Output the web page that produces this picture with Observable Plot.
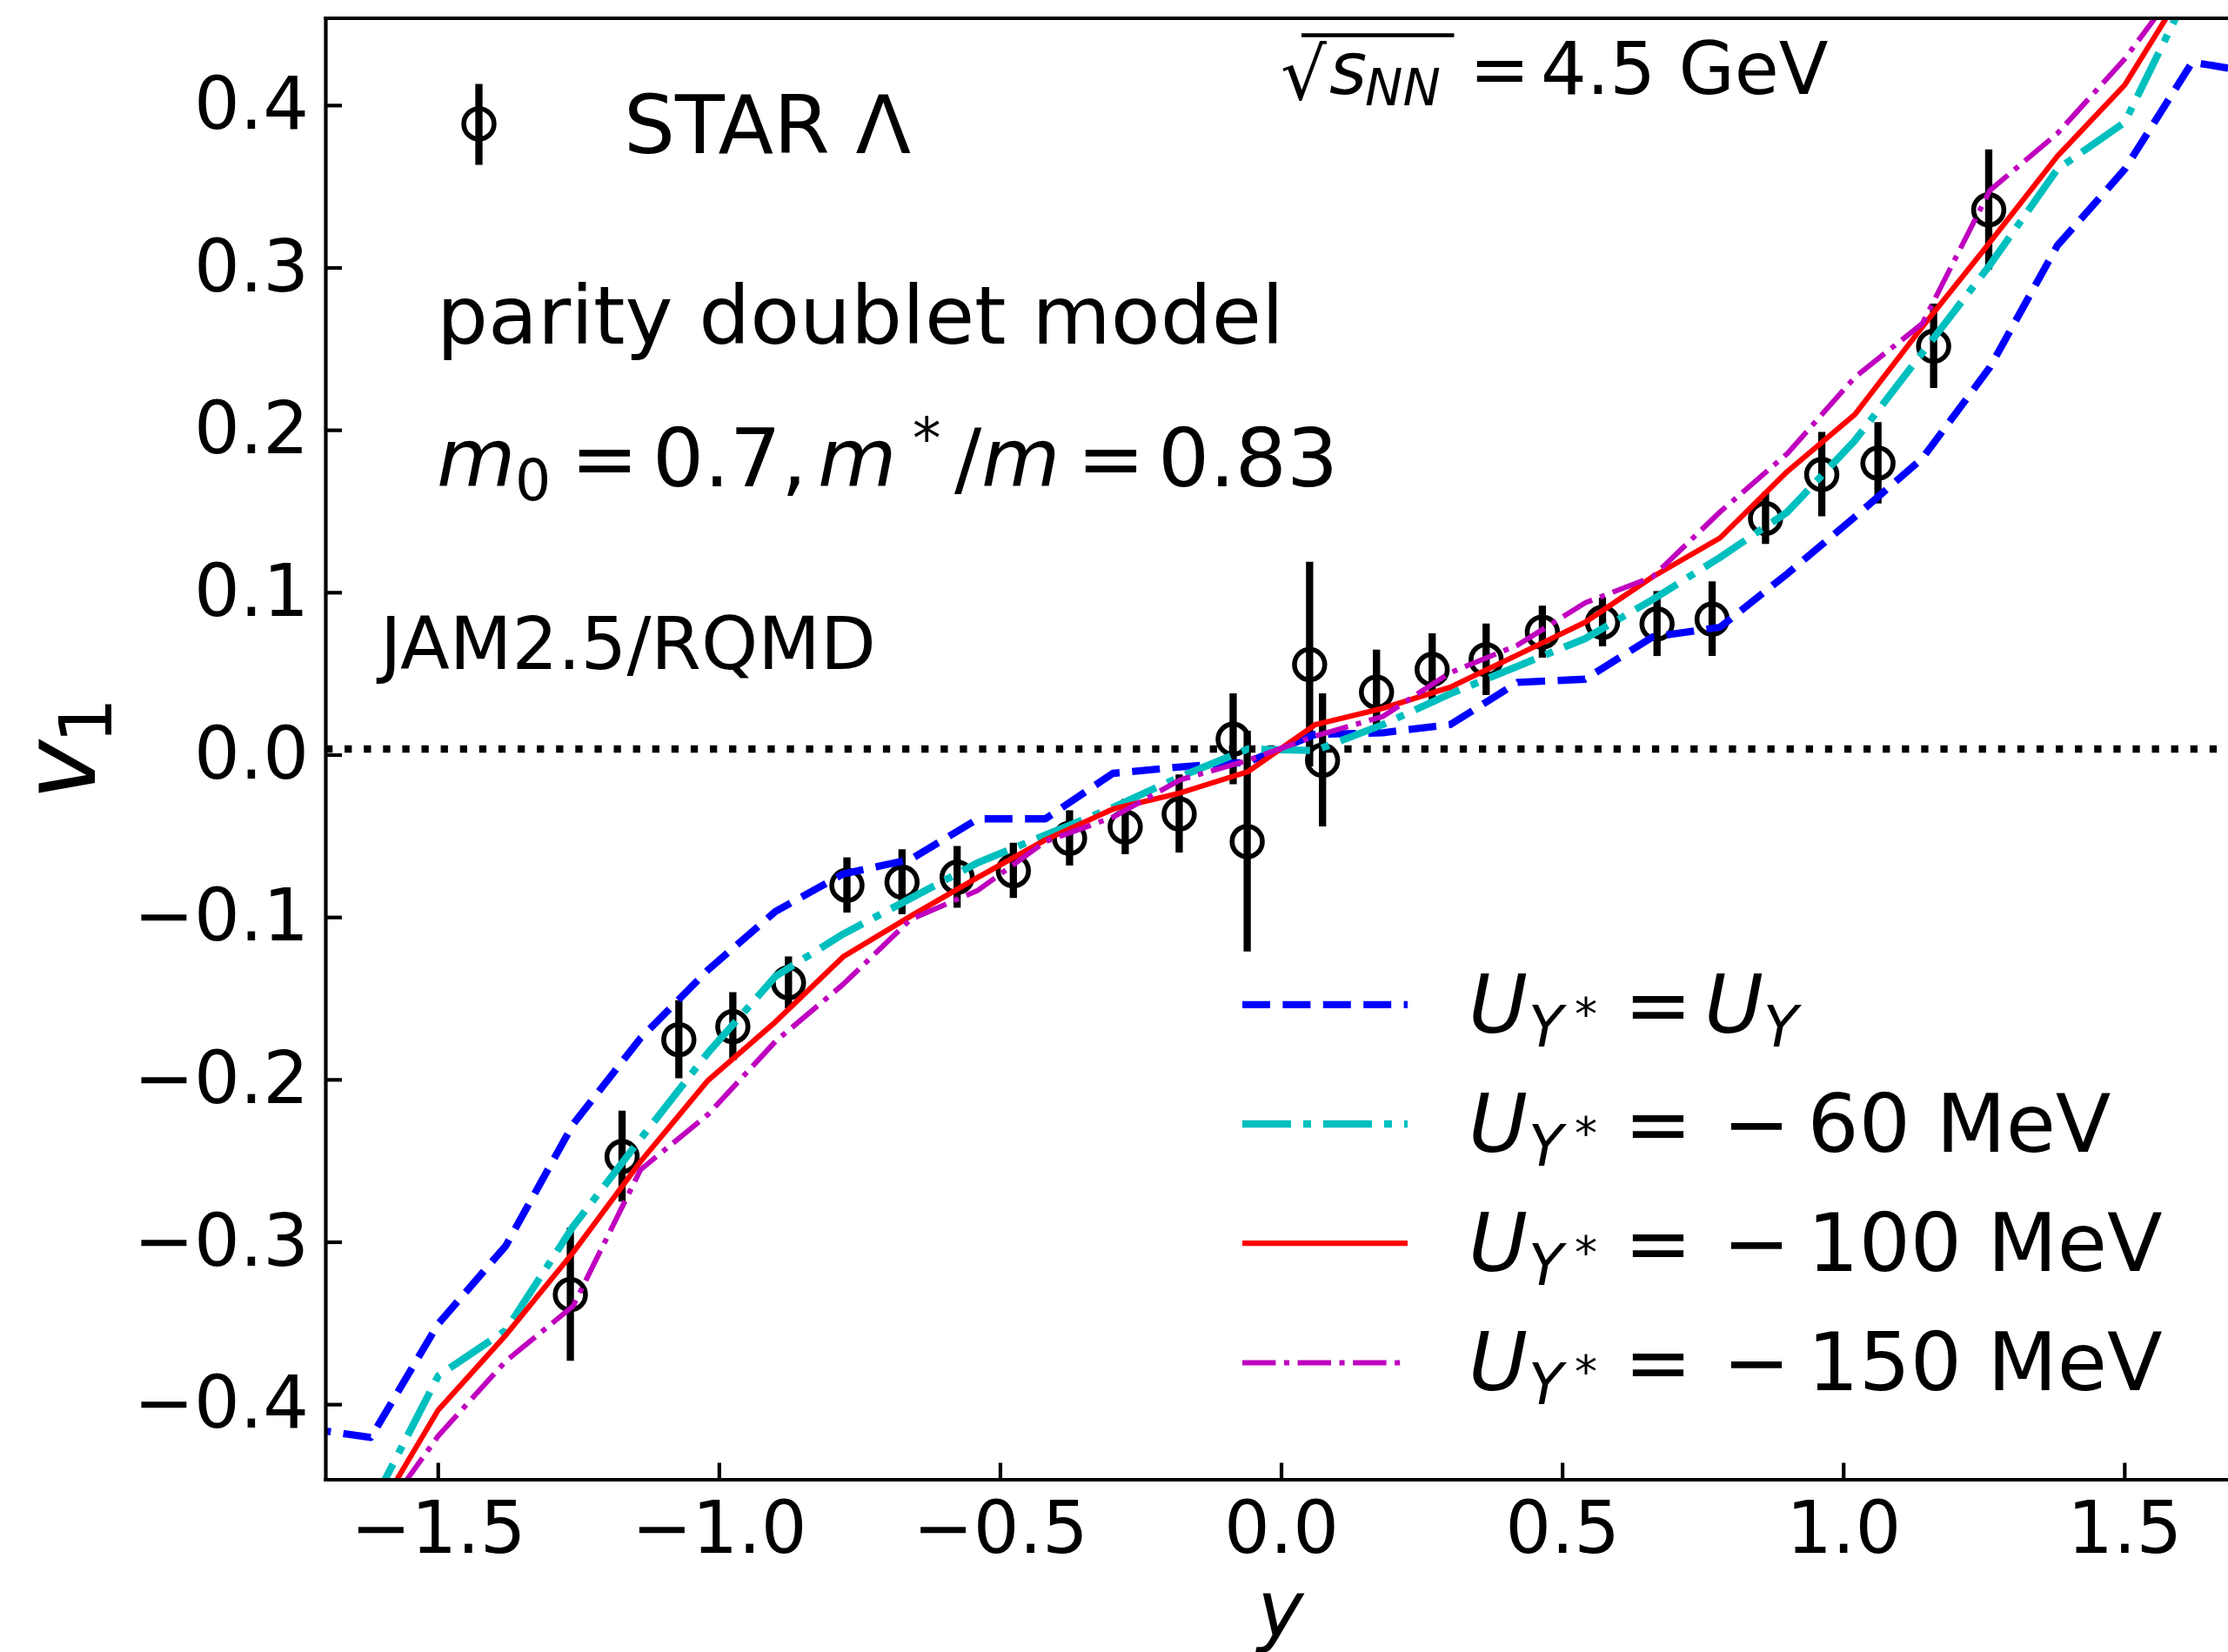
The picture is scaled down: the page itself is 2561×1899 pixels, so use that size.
<!DOCTYPE html>
<html>
<head>
<meta charset="utf-8">
<script src="https://cdn.jsdelivr.net/npm/d3@7"></script>
<script src="https://cdn.jsdelivr.net/npm/@observablehq/plot@0.6"></script>
<style>
  html, body { margin: 0; padding: 0; background: #ffffff; }
  svg { display: block; }
</style>
</head>
<body>
<div id="chart"></div>
<script>
// ---------------- DATA ----------------
// rapidity nodes of the JAM2.5/RQMD curves
const modelY = [-1.74, -1.62, -1.50, -1.38, -1.26, -1.14, -1.02, -0.90, -0.78, -0.66, -0.54, -0.42, -0.30, -0.18, -0.06,
                 0.06, 0.18, 0.30, 0.42, 0.54, 0.66, 0.78, 0.90, 1.02, 1.14, 1.26, 1.38, 1.50, 1.62, 1.74];
// U_Y* = U_Y
const v1Same = [-0.418, -0.424, -0.354, -0.306, -0.231, -0.178, -0.136, -0.100, -0.077, -0.068, -0.043, -0.043, -0.015, -0.011, -0.008,
                 0.009, 0.010, 0.015, 0.041, 0.043, 0.069, 0.075, 0.108, 0.143, 0.179, 0.235, 0.310, 0.357, 0.423, 0.416];
// U_Y* = -60 MeV
const v1m60 = [null, -0.467, -0.386, -0.358, -0.294, -0.240, -0.187, -0.140, -0.114, -0.092, -0.070, -0.053, -0.036, -0.017, 0.000,
               -0.001, 0.015, 0.034, 0.051, 0.068, 0.092, 0.118, 0.146, 0.190, 0.244, 0.298, 0.357, 0.386, 0.471, null];
// U_Y* = -100 MeV
const v1m100 = [null, -0.477, -0.407, -0.361, -0.310, -0.254, -0.204, -0.168, -0.128, -0.103, -0.079, -0.056, -0.037, -0.027, -0.014,
                0.015, 0.025, 0.038, 0.058, 0.078, 0.106, 0.130, 0.171, 0.206, 0.260, 0.312, 0.365, 0.409, 0.476, null];
// U_Y* = -150 MeV
const v1m150 = [null, -0.481, -0.423, -0.377, -0.343, -0.259, -0.225, -0.180, -0.145, -0.105, -0.087, -0.057, -0.042, -0.019, -0.007,
                0.008, 0.020, 0.047, 0.064, 0.090, 0.106, 0.146, 0.182, 0.229, 0.262, 0.344, 0.379, 0.425, 0.481, null];

// STAR Lambda data
const starY   = [-1.265, -1.173, -1.072, -0.976, -0.877, -0.773, -0.675, -0.577, -0.477, -0.377, -0.278, -0.182, -0.086, -0.061,
                  0.050, 0.073, 0.169, 0.268, 0.364, 0.464, 0.571, 0.668, 0.766, 0.861, 0.961, 1.061, 1.160, 1.258];
const starV1  = [-0.336, -0.251, -0.179, -0.171, -0.144, -0.084, -0.082, -0.079, -0.075, -0.055, -0.048, -0.040, 0.006, -0.057,
                  0.052, -0.007, 0.035, 0.049, 0.055, 0.072, 0.078, 0.077, 0.080, 0.142, 0.169, 0.176, 0.248, 0.332];
const starErr = [0.041, 0.028, 0.024, 0.021, 0.016, 0.017, 0.020, 0.019, 0.017, 0.017, 0.017, 0.024, 0.028, 0.068,
                 0.063, 0.041, 0.026, 0.022, 0.022, 0.016, 0.015, 0.020, 0.023, 0.016, 0.026, 0.025, 0.026, 0.037];

const xTicks = [-1.5, -1.0, -0.5, 0.0, 0.5, 1.0, 1.5];
const yTicks = [-0.4, -0.3, -0.2, -0.1, 0.0, 0.1, 0.2, 0.3, 0.4];
const seriesValues = [null, "60", "100", "150"];   // MeV values in legend labels

// ---------------- STYLE ----------------
const FONT = "DejaVu Sans";
const seriesStyle = [
  {values: v1Same, color: "#0000ff", width: 8.3, dash: "32,14.4", cap: "butt"},
  {values: v1m60,  color: "#00bfbf", width: 8.3, dash: "56,14,9,14", cap: "butt"},
  {values: v1m100, color: "#ff0000", width: 6.2, dash: null, cap: "butt"},
  {values: v1m150, color: "#bf00bf", width: 6.0, dash: "38.4,9.6,6,9.6", cap: "butt"}
];

const star = starY.map((y, i) => ({y, v: starV1[i], e: starErr[i]}));

const lineMarks = seriesStyle.map(s => {
  const rows = modelY.map((x, i) => ({x, v: s.values[i]})).filter(d => d.v != null);
  return Plot.line(rows, {
    x: "x", y: "v", stroke: s.color, strokeWidth: s.width,
    strokeDasharray: s.dash, strokeLinecap: s.cap, strokeLinejoin: "round", clip: true
  });
});

const W = 2561, H = 1899;
const plot = Plot.plot({
  width: W, height: H,
  marginLeft: 374, marginRight: 0, marginTop: 20.5, marginBottom: 198.5,
  x: {domain: [-1.7, 1.6844], label: null},
  y: {domain: [-0.45, 0.45], label: null},
  style: {fontFamily: FONT, background: "#ffffff", color: "#000000", overflow: "visible"},
  marks: [
    Plot.ruleY([0], {stroke: "#000", strokeWidth: 8.3, strokeDasharray: "8.3,13.8"}),
    Plot.ruleX(star, {x: "y", y1: d => d.v - d.e, y2: d => d.v + d.e, stroke: "#000", strokeWidth: 8.3}),
    Plot.dot(star, {x: "y", y: "v", r: 17.4, stroke: "#000", strokeWidth: 5.6, fill: "none"}),
    ...lineMarks,
    Plot.frame({anchor: "top", stroke: "#000", strokeWidth: 4.2}),
    Plot.frame({anchor: "left", stroke: "#000", strokeWidth: 4.2}),
    Plot.frame({anchor: "bottom", stroke: "#000", strokeWidth: 4.2}),
    Plot.axisX(xTicks, {tickSize: -19, tickPadding: 44.5, strokeWidth: 4.2, fontSize: 83,
                        tickFormat: d3.format(".1f"), fill: "#000", stroke: "#000"}),
    Plot.axisY(yTicks, {tickSize: -19, tickPadding: 38.5, strokeWidth: 4.2, fontSize: 83, dy: 7,
                        tickFormat: d3.format(".1f"), fill: "#000", stroke: "#000"})
  ]
});
document.getElementById("chart").appendChild(plot);

// ---------------- ANNOTATIONS (text typeset like matplotlib mathtext) ----------------
const svg = d3.select(plot);
const g = svg.append("g").attr("font-family", FONT).attr("fill", "#000").attr("text-anchor", "start");
function T(parent, x, y, size, str, italic) {
  return parent.append("text").attr("x", x).attr("y", y).attr("font-size", size)
    .attr("text-anchor", "start")
    .attr("font-style", italic ? "italic" : "normal").attr("xml:space", "preserve").text(str);
}

// STAR legend entry
g.append("line").attr("x1", 550.5).attr("x2", 550.5).attr("y1", 96.4).attr("y2", 189.4)
  .attr("stroke", "#000").attr("stroke-width", 8.3);
g.append("circle").attr("cx", 550.5).attr("cy", 142.4).attr("r", 17.4)
  .attr("fill", "none").attr("stroke", "#000").attr("stroke-width", 5.6);
T(g, 717, 176, 93, "STAR Λ", false);

// sqrt(s_NN) = 4.5 GeV
T(g, 1472, 114, 83, "√", false);
g.append("line").attr("x1", 1496).attr("x2", 1671.5).attr("y1", 40.5).attr("y2", 40.5)
  .attr("stroke", "#000").attr("stroke-width", 4.6);
T(g, 1528, 108.3, 83, "s", true);
T(g, 1569, 120.5, 58, "NN", true);
T(g, 1689, 108.3, 83, "=", false);
T(g, 1771, 108.3, 83, "4.5 GeV", false);

// model text
T(g, 502, 395, 93, "parity doublet model", false);
T(g, 502, 559, 93, "m", true);
T(g, 592, 575, 65, "0", false);
T(g, 656, 559, 93, "=", false);
T(g, 750, 559, 93, "0.7,", false);
T(g, 940, 559, 93, "m", true);
T(g, 1049, 527, 65, "*", false);
T(g, 1097, 559, 93, "/", false);
T(g, 1128, 559, 93, "m", true);
T(g, 1238, 559, 93, "=", false);
T(g, 1331, 559, 93, "0.83", false);

T(g, 437, 769, 83, "JAM2.5/RQMD", false);

// model legend
const rowB = [1186.5, 1323.7, 1460.9, 1598.1];
seriesStyle.forEach((s, i) => {
  const B = rowB[i];
  const ln = g.append("line").attr("x1", 1428).attr("x2", 1618).attr("y1", B - 31.7).attr("y2", B - 31.7)
    .attr("stroke", s.color).attr("stroke-width", s.width).attr("stroke-linecap", "butt");
  if (s.dash) ln.attr("stroke-dasharray", s.dash);
  T(g, 1688, B, 93, "U", true);
  T(g, 1757, B + 16, 65, "Y", true);
  T(g, 1810, B - 3, 52, "*", false);
  T(g, 1867, B, 93, "=", false);
  if (seriesValues[i] == null) {
    T(g, 1959, B, 93, "U", true);
    T(g, 2027, B + 16, 65, "Y", true);
  } else {
    T(g, 1980, B, 93, "−", false);
    T(g, 2077.5, B, 93, seriesValues[i] + " MeV", false);
  }
});

// axis labels
const yl = g.append("text").attr("transform", "translate(109,920) rotate(-90)").attr("font-size", 117)
  .attr("text-anchor", "start");
yl.append("tspan").attr("font-style", "italic").text("v");
yl.append("tspan").attr("font-size", 83).attr("dy", 19).attr("dx", -4).text("1");
g.append("text").attr("x", 1472).attr("y", 1881).attr("font-size", 90).attr("font-style", "italic")
  .attr("text-anchor", "middle").text("y");
</script>
</body>
</html>
